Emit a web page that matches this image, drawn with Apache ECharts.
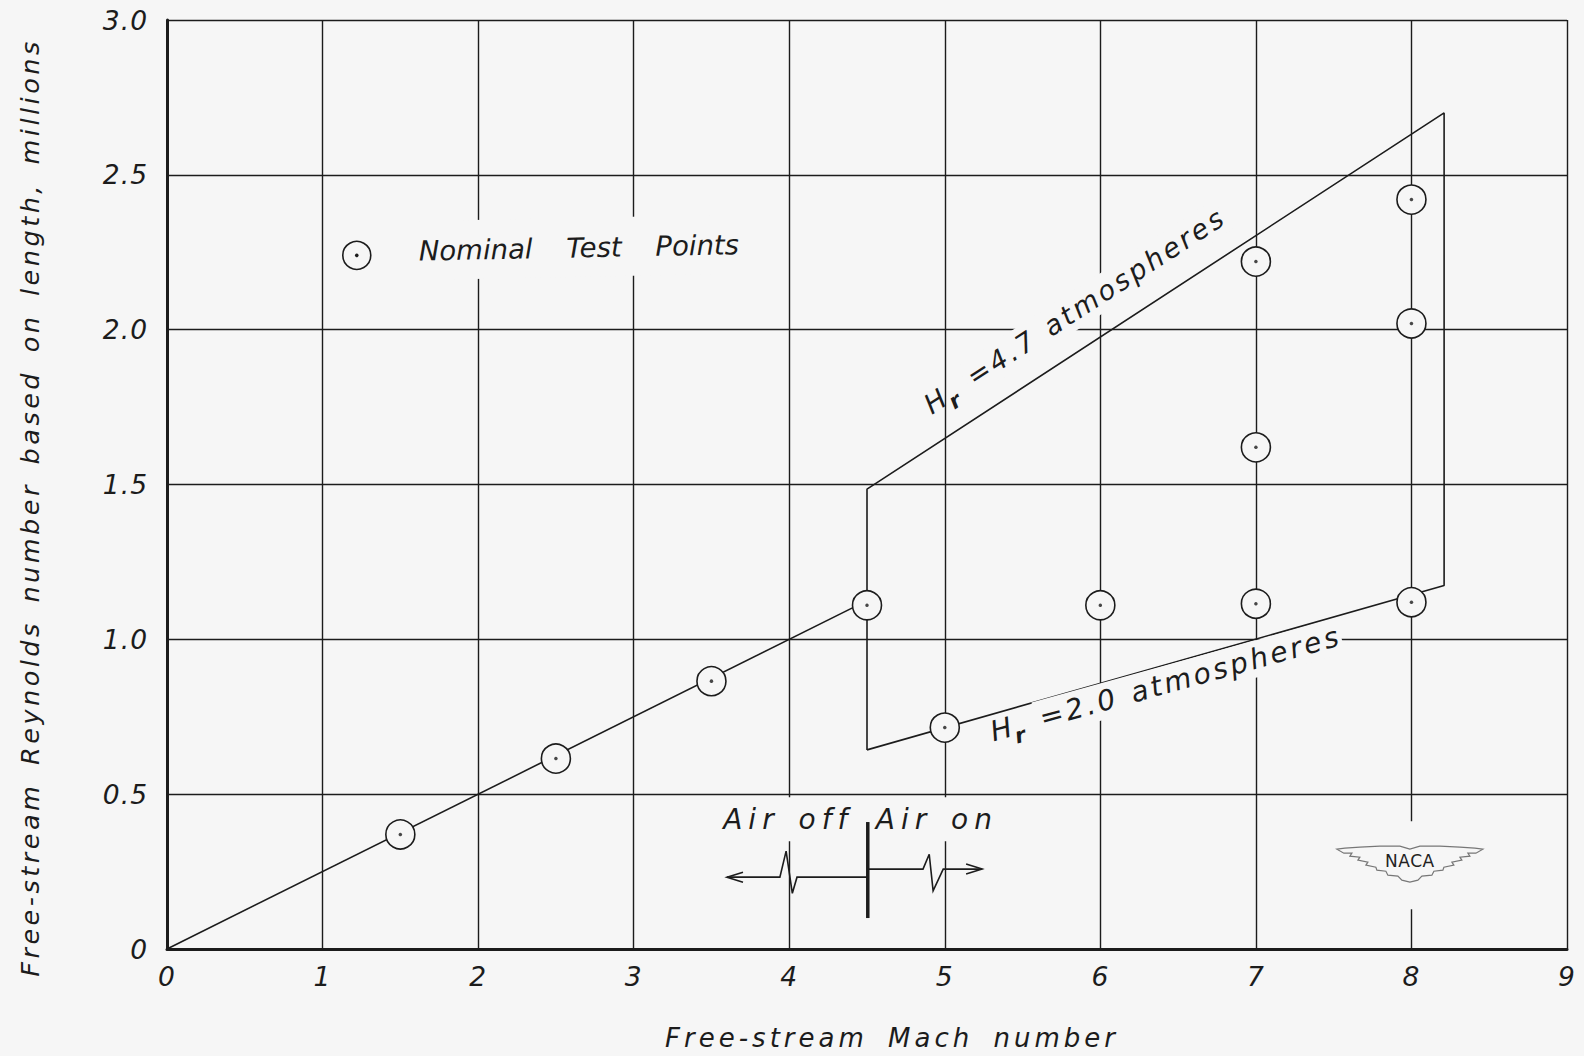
<!DOCTYPE html>
<html><head><meta charset="utf-8">
<script src="https://cdn.jsdelivr.net/npm/echarts@6/dist/echarts.min.js"></script>
<style>
html,body{margin:0;padding:0;background:#f6f6f6;}
#chart{width:1584px;height:1056px;}
#chart svg text{letter-spacing:4px;word-spacing:8px;}
#chart svg text[style*="26.5px"]{letter-spacing:1px;word-spacing:0;}
#chart svg text[style*="25.5px"]{letter-spacing:3.5px;word-spacing:6px;}
#chart svg text[style*="27.5px"]{letter-spacing:0;word-spacing:25px;}
#chart svg text[style*="28px"]{letter-spacing:6px;word-spacing:4px;}
#chart svg text[style*="27.2px"],#chart svg text[style*="28.2px"]{letter-spacing:3px;word-spacing:2px;}
#chart svg text[style*="21.2px"]{letter-spacing:0;}
#chart svg text[style*="17px"]{letter-spacing:0.5px;word-spacing:0;}
</style></head><body><div id="chart"></div>
<script>
// ---- data ----
const machTickLabels = ['0','1','2','3','4','5','6','7','8','9'];
const reTickLabels = ['0','0.5','1.0','1.5','2.0','2.5','3.0'];
// air-off line from origin
const offLineMach = [0, 4.5];
const offLineRe = [0, 1.125];
// operating envelope (H_r = 2.0 .. 4.7 atm)
const envMach = [4.5, 4.5, 8.21, 8.21, 4.5];
const envRe = [0.643, 1.485, 2.70, 1.174, 0.643];
// nominal test points
const testMach = [1.5, 2.5, 3.5, 4.5, 5, 6, 7, 7, 7, 8, 8, 8];
const testRe = [0.37, 0.615, 0.865, 1.11, 0.715, 1.11, 1.115, 1.62, 2.22, 1.12, 2.02, 2.42];

const BG = '#f6f6f6', INK = '#1c1c1c';
const FONT = 'DejaVu Sans';
const zip = (a, b) => a.map((v, i) => [v, b[i]]);

const chart = echarts.init(document.getElementById('chart'), null, {renderer: 'svg'});
const option = {
  backgroundColor: BG,
  animation: false,
  grid: {left: 167, right: 17, top: 20, bottom: 106},
  xAxis: {
    type: 'value', min: 0, max: 9, interval: 1,
    name: 'Free-stream Mach number', nameLocation: 'middle', nameGap: 76,
    nameTextStyle: {fontFamily: FONT, fontStyle: 'italic', fontSize: 26, color: INK, padding: [0, 0, 0, 50]},
    axisLine: {show: true, lineStyle: {color: INK, width: 3}},
    axisTick: {show: false},
    axisLabel: {margin: 14, fontFamily: FONT, fontStyle: 'italic', fontSize: 26.5, color: INK,
      formatter: (v) => machTickLabels[Math.round(v)]},
    splitLine: {show: true, lineStyle: {color: INK, width: 1.4}}
  },
  yAxis: {
    type: 'value', min: 0, max: 3, interval: 0.5,
    name: 'Free-stream Reynolds number based on length, millions', nameLocation: 'middle', nameGap: 124,
    nameTextStyle: {fontFamily: FONT, fontStyle: 'italic', fontSize: 25.5, color: INK, padding: [0, 46, 0, 0]},
    axisLine: {show: true, lineStyle: {color: INK, width: 3}},
    axisTick: {show: false},
    axisLabel: {margin: 19, fontFamily: FONT, fontStyle: 'italic', fontSize: 26.5, color: INK,
      formatter: (v) => reTickLabels[Math.round(v * 2)]},
    splitLine: {show: true, lineStyle: {color: INK, width: 1.4}}
  },
  series: [
    {type: 'line', data: zip(offLineMach, offLineRe), symbol: 'none', lineStyle: {color: INK, width: 1.6}, z: 3},
    {type: 'line', data: zip(envMach, envRe), symbol: 'none', lineStyle: {color: INK, width: 1.6}, z: 3},
    {type: 'scatter', name: 'Nominal Test Points', data: zip(testMach, testRe), symbol: 'circle', symbolSize: 29,
      itemStyle: {color: BG, borderColor: INK, borderWidth: 1.6, opacity: 1}, z: 5},
    {type: 'scatter', data: zip(testMach, testRe), symbol: 'circle', symbolSize: 3.5,
      itemStyle: {color: INK}, z: 6}
  ]
};
chart.setOption(option);

// ---- annotations, anchored in data coordinates ----
const P = (x, y) => chart.convertToPixel({gridIndex: 0}, [x, y]);
const g = [];

// legend
{
  const c = P(1.22, 2.24);
  g.push({type: 'circle', shape: {cx: c[0], cy: c[1], r: 14}, style: {fill: BG, stroke: INK, lineWidth: 1.6}, z: 20});
  g.push({type: 'circle', shape: {cx: c[0], cy: c[1], r: 1.8}, style: {fill: INK}, z: 21});
  const t = P(1.58, 2.255);
  g.push({type: 'text', x: t[0], y: t[1], rotation: 0.02, z: 20,
    style: {text: 'Nominal Test Points', fontFamily: FONT, fontStyle: 'italic', fontSize: 27.5, fill: INK,
      align: 'left', verticalAlign: 'middle', backgroundColor: BG, padding: [16, 56, 16, 6]}});
}

// H_r labels: group anchored at baseline start of "H"
[[4.923, 1.725, 33, 27.2, '4.7'], [5.321, 0.668, 15.5, 28.2, '2.0']].forEach(([x, y, deg, fs, v]) => {
  const p = P(x, y);
  g.push({type: 'group', x: p[0], y: p[1], rotation: deg * Math.PI / 180, z: 20, children: [
    {type: 'text', x: 46, y: -0.37 * fs, z: 20, style: {text: '=' + v + ' atmospheres', fontFamily: FONT,
      fontStyle: 'italic', fontSize: fs, fill: INK, align: 'left', verticalAlign: 'middle',
      backgroundColor: BG, padding: [4, 50, 4, 4]}},
    {type: 'text', x: -1, y: -0.37 * fs, z: 21, style: {text: 'H', fontFamily: FONT, fontStyle: 'italic',
      fontSize: fs, fill: INK, align: 'left', verticalAlign: 'middle'}},
    {type: 'text', x: 21, y: 0, z: 21, style: {text: 'r', fontFamily: FONT, fontStyle: 'italic', fontWeight: 'bold',
      fontSize: 21.2, fill: INK, align: 'left', verticalAlign: 'middle'}}
  ]});
});

// Air off / Air on diagram
{
  const a = P(3.994, 0.419), b = P(4.949, 0.419);
  g.push({type: 'text', x: a[0], y: a[1], z: 20, style: {text: 'Air off', fontFamily: FONT, fontStyle: 'italic',
    fontSize: 28, fill: INK, align: 'center', verticalAlign: 'middle', backgroundColor: BG, padding: [8, 26]}});
  g.push({type: 'text', x: b[0], y: b[1], z: 20, style: {text: 'Air on', fontFamily: FONT, fontStyle: 'italic',
    fontSize: 28, fill: INK, align: 'center', verticalAlign: 'middle', backgroundColor: BG, padding: [8, 24]}});
  const d0 = P(4.505, 0.10), d1 = P(4.505, 0.41);
  g.push({type: 'line', shape: {x1: d0[0], y1: d0[1], x2: d1[0], y2: d1[1]}, style: {stroke: INK, lineWidth: 3.5}, z: 22});
  const left = [[4.505, 0.232], [4.05, 0.232], [4.02, 0.18], [3.98, 0.316], [3.94, 0.232], [3.60, 0.232]].map(q => P(q[0], q[1]));
  const right = [[4.505, 0.258], [4.86, 0.258], [4.90, 0.306], [4.925, 0.188], [4.99, 0.258], [5.24, 0.258]].map(q => P(q[0], q[1]));
  g.push({type: 'polyline', shape: {points: left}, style: {stroke: INK, lineWidth: 1.6, fill: null}, z: 21});
  g.push({type: 'polyline', shape: {points: right}, style: {stroke: INK, lineWidth: 1.6, fill: null}, z: 21});
  const lt = left[left.length - 1], rt = right[right.length - 1];
  g.push({type: 'polyline', shape: {points: [[lt[0] + 16, lt[1] - 5], lt, [lt[0] + 16, lt[1] + 5]]}, style: {stroke: INK, lineWidth: 1.6, fill: null}, z: 21});
  g.push({type: 'polyline', shape: {points: [[rt[0] - 16, rt[1] - 5], rt, [rt[0] - 16, rt[1] + 5]]}, style: {stroke: INK, lineWidth: 1.6, fill: null}, z: 21});
}

// NACA emblem
{
  const c = P(7.99, 0.29);
  const half = [[0,-10],[-10,-13],[-30,-13],[-50,-12],[-65,-11],[-73,-10],[-66,-6],[-58,-6],[-60,-3],[-50,-2],[-52,1],[-42,3],[-44,6],[-34,8],[-33,11],[-24,12],[-22,16],[-12,17],[-8,21],[0,23]];
  const pts = half.concat(half.slice(1, -1).reverse().map(q => [-q[0], q[1]]));
  g.push({type: 'group', x: c[0], y: c[1], z: 20, children: [
    {type: 'rect', shape: {x: -10, y: -38, width: 20, height: 88}, style: {fill: BG}, z: 20},
    {type: 'polygon', shape: {points: pts}, style: {fill: BG, stroke: '#777', lineWidth: 1.2}, z: 21},
    {type: 'text', x: 0, y: 2, z: 22, style: {text: 'NACA', fontFamily: FONT, fontSize: 17, fill: '#222',
      align: 'center', verticalAlign: 'middle'}}
  ]});
}
chart.setOption({graphic: g});
</script></body></html>
